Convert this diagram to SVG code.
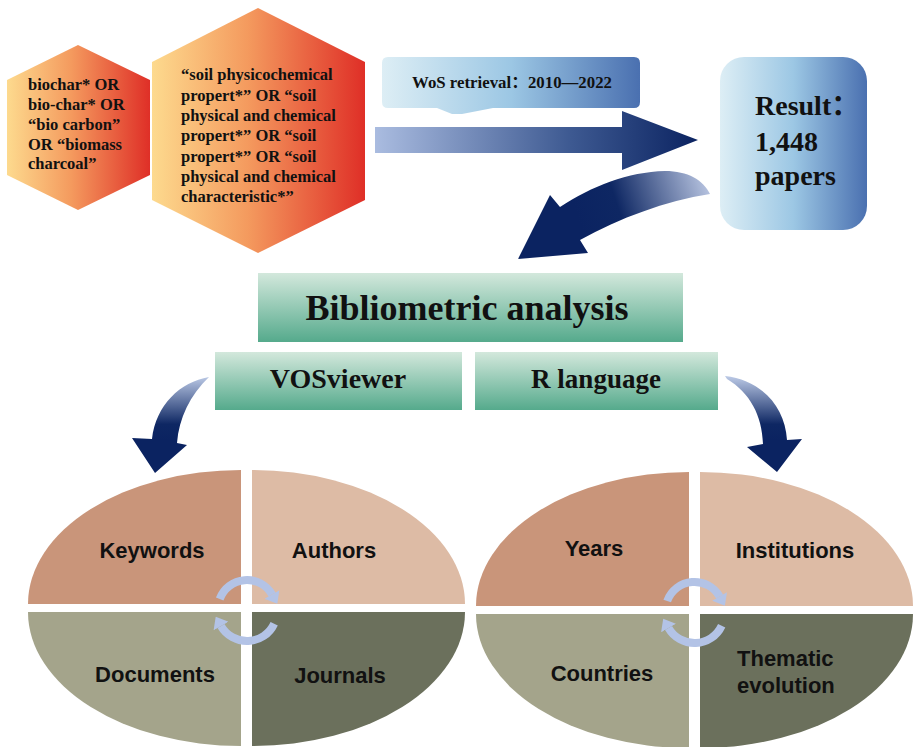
<svg xmlns="http://www.w3.org/2000/svg" width="914" height="747" viewBox="0 0 914 747">
<defs>
<linearGradient id="hexG" x1="0" y1="0" x2="1" y2="0">
<stop offset="0" stop-color="#FDDA8E"/><stop offset="0.45" stop-color="#F49A5E"/><stop offset="1" stop-color="#DF2F27"/>
</linearGradient>
<linearGradient id="blueBox" x1="0" y1="0" x2="1" y2="0">
<stop offset="0" stop-color="#DDEEF5"/><stop offset="0.5" stop-color="#9CC7E4"/><stop offset="1" stop-color="#4A70B0"/>
</linearGradient>
<linearGradient id="greenG" x1="0" y1="0" x2="0" y2="1">
<stop offset="0" stop-color="#D3E8DC"/><stop offset="1" stop-color="#55AA8C"/>
</linearGradient>
<linearGradient id="arrowH" gradientUnits="userSpaceOnUse" x1="375" y1="0" x2="698" y2="0">
<stop offset="0" stop-color="#AABCE0"/><stop offset="0.6" stop-color="#3E5A92"/><stop offset="1" stop-color="#0B2361"/>
</linearGradient>
<linearGradient id="arrowC" gradientUnits="userSpaceOnUse" x1="712" y1="182" x2="580" y2="225">
<stop offset="0" stop-color="#BFCBE6"/><stop offset="0.7" stop-color="#0E2763"/><stop offset="1" stop-color="#0B2361"/>
</linearGradient>
<linearGradient id="arrowV" gradientUnits="userSpaceOnUse" x1="0" y1="377" x2="0" y2="440">
<stop offset="0" stop-color="#B9C7E4"/><stop offset="0.75" stop-color="#0E2763"/><stop offset="1" stop-color="#0B2361"/>
</linearGradient>
<marker id="cyc" markerUnits="userSpaceOnUse" markerWidth="11" markerHeight="17" viewBox="0 0 10 16" refX="0" refY="8" orient="auto">
<path d="M0,0 L10,8 L0,16 Z" fill="#B3C3E6"/>
</marker>
<style>
.hx{font-family:"Liberation Serif","Times New Roman",serif;font-weight:bold;font-size:16.5px;fill:#111}
.ser{font-family:"Liberation Serif","Times New Roman","Noto Sans CJK SC",serif;font-weight:bold;fill:#111}
.san{font-family:"Liberation Sans",Arial,sans-serif;font-weight:bold;font-size:22px;fill:#111}
.arc{fill:none;stroke:#B3C3E6;stroke-width:8;marker-end:url(#cyc)}
.q1{fill:#C9957A}.q2{fill:#DDBBA5}.q3{fill:#A4A48B}.q4{fill:#6B705C}
</style>
</defs>
<rect width="914" height="747" fill="#fff"/>

<g id="hex-biochar">
<polygon points="78,45 150,80 150,175 78,210 7,175 7,80" fill="url(#hexG)"/>
<text class="hx" x="28" y="90">biochar* OR</text>
<text class="hx" x="28" y="110">bio-char* OR</text>
<text class="hx" x="28" y="130">“bio carbon”</text>
<text class="hx" x="28" y="150">OR “biomass</text>
<text class="hx" x="28" y="169">charcoal”</text>
</g>

<g id="hex-soil">
<polygon points="258,8 365,62 365,200 258,253 152,200 152,62" fill="url(#hexG)"/>
<text class="hx" x="181" y="80">“soil physicochemical</text>
<text class="hx" x="181" y="100.5">propert*” OR “soil</text>
<text class="hx" x="181" y="121">physical and chemical</text>
<text class="hx" x="181" y="141">propert*” OR “soil</text>
<text class="hx" x="181" y="161.5">propert*” OR “soil</text>
<text class="hx" x="181" y="182">physical and chemical</text>
<text class="hx" x="181" y="202">characteristic*”</text>
</g>

<g id="wos">
<path d="M388,57 L634,57 Q640,57 640,63 L640,102 Q640,108 634,108 L493,108 L462,114 L452,114 L437,108 L388,108 Q382,108 382,102 L382,63 Q382,57 388,57 Z" fill="url(#blueBox)"/>
<text class="ser" x="412" y="88" font-size="16.5" textLength="200" lengthAdjust="spacingAndGlyphs">WoS retrieval：2010—2022</text>
</g>

<g id="result">
<rect x="720" y="57" width="147" height="173" rx="24" fill="url(#blueBox)"/>
<text class="ser" x="755" y="115" font-size="28">Result：</text>
<text class="ser" x="755" y="151" font-size="28">1,448</text>
<text class="ser" x="755" y="185" font-size="28">papers</text>
</g>

<g id="bibliometric">
<rect x="258" y="273" width="425" height="69" fill="url(#greenG)"/>
<text class="ser" x="467" y="320" font-size="36" text-anchor="middle">Bibliometric  analysis</text>
</g>

<g id="vosviewer">
<rect x="215" y="352" width="247" height="58" fill="url(#greenG)"/>
<text class="ser" x="338" y="388" font-size="28" text-anchor="middle">VOSviewer</text>
</g>

<g id="rlanguage">
<rect x="475" y="352" width="243" height="58" fill="url(#greenG)"/>
<text class="ser" x="596" y="388" font-size="27" text-anchor="middle">R language</text>
</g>

<g id="connectors">
<path d="M375,127 L622,127 L622,111 L698,140 L622,170 L622,153 L375,153 Z" fill="url(#arrowH)"/>
<path d="M560,207 L550,195 L518,259 L588,253 L580,240 C620,218 665,201 710,194 C703,180 688,171 665,171 C628,172 592,186 560,207 Z" fill="url(#arrowC)"/>
<path d="M209,377 C180,382 156,405 152,439 L132,438 L155,473 L187,445 L177,443 C179,418 190,395 209,377 Z" fill="url(#arrowV)"/>
<path d="M725,376 C760,380 785,405 787,440 L802,439 L777,472 L747,447 L763,444 C762,415 750,393 727,379 Z" fill="url(#arrowV)"/>
</g>

<g id="vos-ellipse">
<path class="q1" d="M241,604 L28,604 A213,134 0 0 1 241,470 Z"/>
<path class="q2" d="M252,604 L252,470 A213,134 0 0 1 465,604 Z"/>
<path class="q3" d="M241,612 L241,746 A213,134 0 0 1 28,612 Z"/>
<path class="q4" d="M252,612 L465,612 A213,134 0 0 1 252,746 Z"/>
<text class="san" x="152" y="558" text-anchor="middle">Keywords</text>
<text class="san" x="334" y="558" text-anchor="middle">Authors</text>
<text class="san" x="155" y="682" text-anchor="middle">Documents</text>
<text class="san" x="340" y="683" text-anchor="middle">Journals</text>
<path class="arc" d="M219.7,599 A29,29 0 0 1 272,594.5"/>
<path class="arc" d="M274.2,623.7 A30,30 0 0 1 221,626"/>
</g>

<g id="r-ellipse">
<path class="q1" d="M689,606 L476,606 A213,134 0 0 1 689,472 Z"/>
<path class="q2" d="M700,606 L700,472 A213,134 0 0 1 913,606 Z"/>
<path class="q3" d="M689,614 L689,748 A213,134 0 0 1 476,614 Z"/>
<path class="q4" d="M700,614 L913,614 A213,134 0 0 1 700,748 Z"/>
<text class="san" x="594" y="556" text-anchor="middle">Years</text>
<text class="san" x="795" y="558" text-anchor="middle">Institutions</text>
<text class="san" x="602" y="681" text-anchor="middle">Countries</text>
<text class="san" x="737" y="666">Thematic</text>
<text class="san" x="737" y="693">evolution</text>
<path class="arc" d="M667.2,601 A29,29 0 0 1 719.6,596.5"/>
<path class="arc" d="M721.7,625.7 A30,30 0 0 1 668.5,628"/>
</g>
</svg>
